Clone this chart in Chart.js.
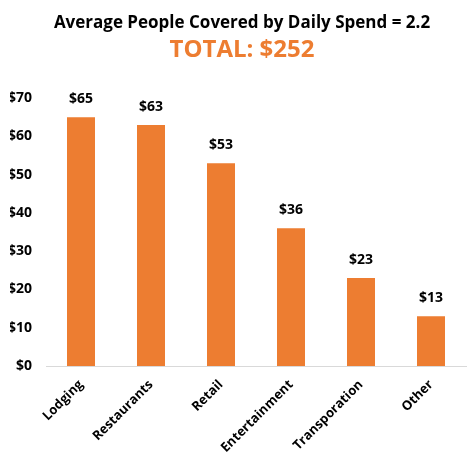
<!DOCTYPE html>
<html>
<head>
<meta charset="utf-8">
<script src="https://cdn.jsdelivr.net/npm/chart.js@4/dist/chart.umd.min.js"></script>
<style>
  html, body { margin: 0; padding: 0; background: #fff; }
  #wrap { width: 474px; height: 456px; }
</style>
</head>
<body>
<div id="wrap"><canvas id="spendChart"></canvas></div>
<script>
const categories = ["Lodging", "Restaurants", "Retail", "Entertainment", "Transporation", "Other"];
const spend = [65, 63, 53, 36, 23, 13];
const yTicks = [0, 10, 20, 30, 40, 50, 60, 70];

const FONT = "'Open Sans', Lato, sans-serif";
const ORANGE = "#ed7d31";

// write "$xx" above each bar
const valueLabels = {
  id: "valueLabels",
  afterDatasetsDraw(chart) {
    const ctx = chart.ctx;
    const meta = chart.getDatasetMeta(0);
    ctx.save();
    ctx.font = "bold 14px " + FONT;
    ctx.fillStyle = "#000";
    ctx.textAlign = "center";
    ctx.textBaseline = "bottom";
    meta.data.forEach((bar, i) => {
      ctx.fillText("$" + spend[i], bar.x, bar.y - 11);
    });
    ctx.restore();
  }
};

new Chart(document.getElementById("spendChart"), {
  type: "bar",
  data: {
    labels: categories,
    datasets: [{
      data: spend,
      backgroundColor: ORANGE,
      barPercentage: 0.4,
      categoryPercentage: 1
    }]
  },
  options: {
    responsive: true,
    maintainAspectRatio: false,
    animation: false,
    layout: { padding: { top: 9, right: 0, left: 10, bottom: 0 } },
    plugins: {
      legend: { display: false },
      tooltip: { enabled: false },
      title: {
        display: true,
        text: "Average People Covered by Daily Spend = 2.2",
        color: "#000",
        font: { family: FONT, size: 17, weight: "bold" },
        padding: { top: 4, bottom: 0 }
      },
      subtitle: {
        display: true,
        text: "TOTAL: $252",
        color: ORANGE,
        font: { family: FONT, size: 24, weight: "bold" },
        padding: { top: 2, bottom: 34 }
      }
    },
    scales: {
      y: {
        min: 0,
        max: 70,
        clip: false,
        afterBuildTicks(axis) {
          axis.ticks = yTicks.map(v => ({ value: v }));
        },
        afterFit(axis) {
          axis.width = 36;
        },
        ticks: {
          color: "#000",
          font: { family: FONT, size: 14, weight: "bold" },
          padding: 14,
          callback: v => "$" + v
        },
        grid: { display: false, drawTicks: false },
        border: { display: false }
      },
      x: {
        clip: false,
        afterFit(axis) {
          // first rotated label may hang over the y labels; keep a small gap on the right
          axis.paddingLeft = 0;
          axis.paddingRight = 8;
          axis.height = 90;
        },
        ticks: {
          color: "#000",
          font: { family: FONT, size: 13, weight: "bold" },
          minRotation: 45,
          maxRotation: 45,
          padding: 3
        },
        grid: { display: false },
        border: { display: true, color: "#d9d9d9", width: 1 }
      }
    }
  },
  plugins: [valueLabels]
});
</script>
</body>
</html>
